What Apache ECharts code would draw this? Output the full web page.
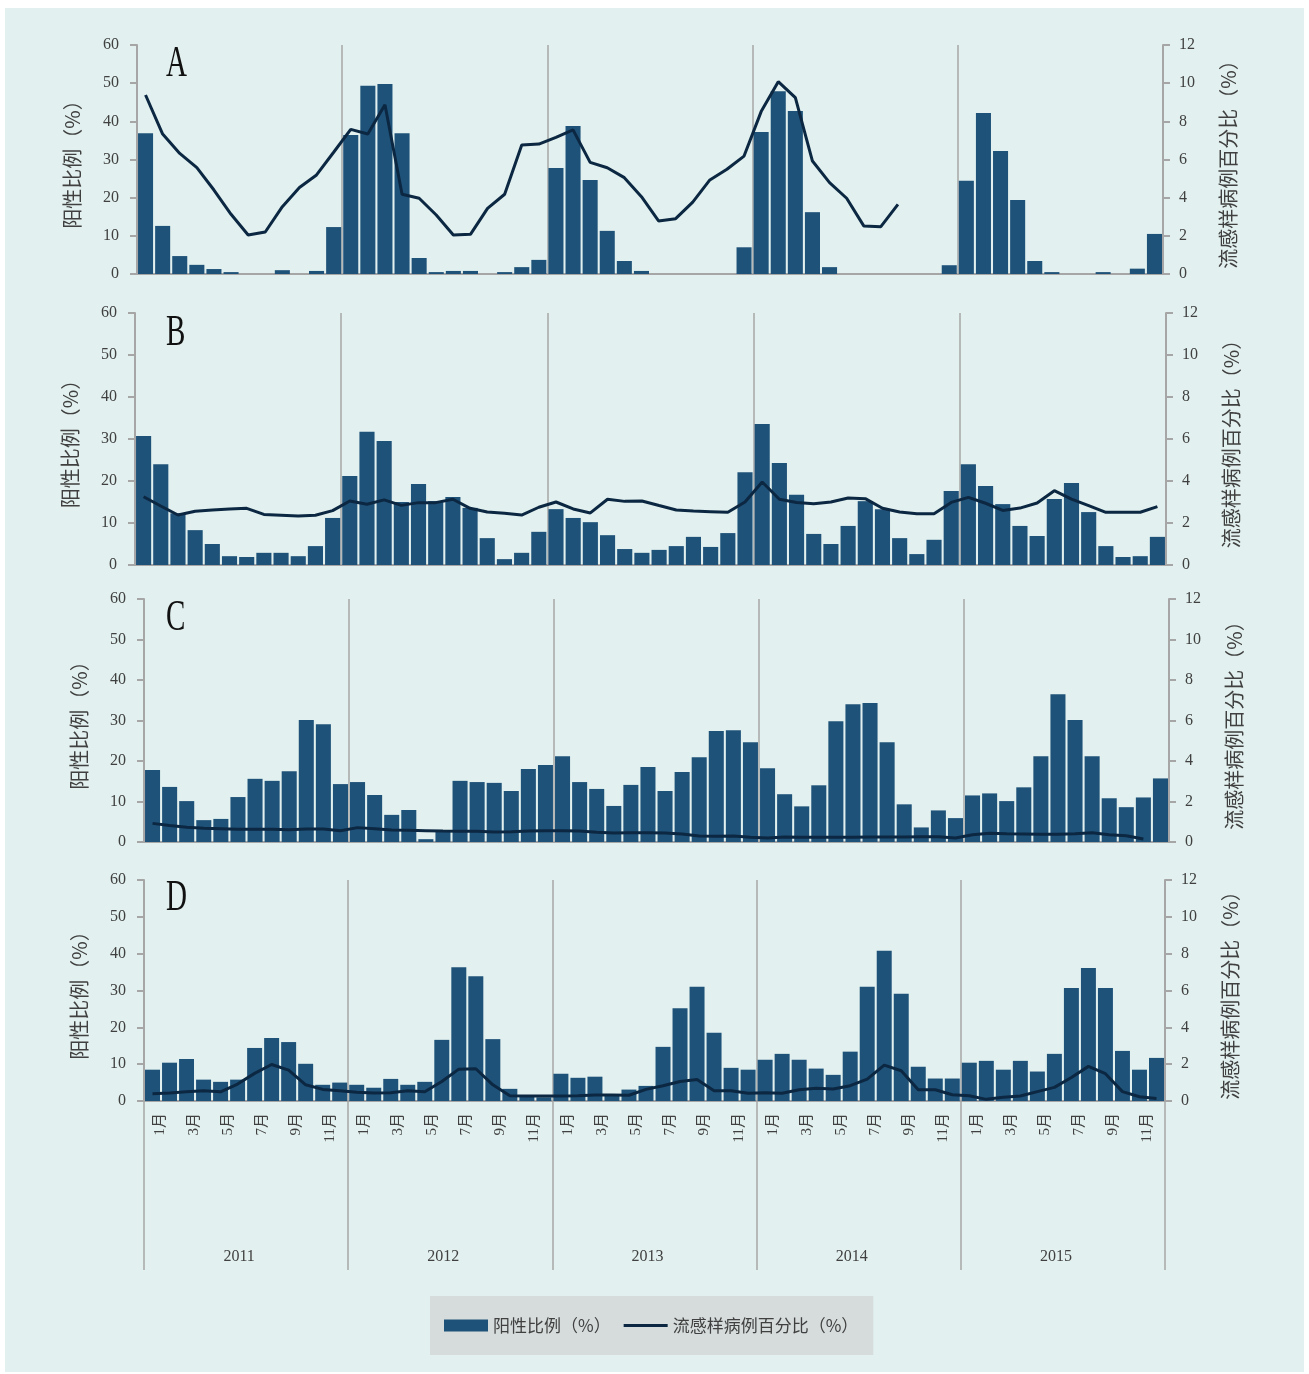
<!DOCTYPE html>
<html>
<head>
<meta charset="utf-8">
<script src="https://cdn.jsdelivr.net/npm/echarts@6/dist/echarts.min.js"></script>
<style>
  html, body { margin: 0; padding: 0; background: #ffffff; }
  #bg { position: absolute; left: 5px; top: 8px; right: 5px; bottom: 2px; background: #e2f1ef; }
  #chart { position: absolute; left: 0; top: 0; width: 1309px; height: 1374px; }
</style>
</head>
<body>
<div id="bg"></div>
<div id="chart"></div>
<script>
// Monthly surveillance, 2011-2015, four panels (A-D)
const years = ['2011', '2012', '2013', '2014', '2015'];
const months = ['1月', '2月', '3月', '4月', '5月', '6月', '7月', '8月', '9月', '10月', '11月', '12月'];
const panelNames = ['A', 'B', 'C', 'D'];
const leftTicks = [0, 10, 20, 30, 40, 50, 60];
const rightTicks = [0, 2, 4, 6, 8, 10, 12];

// 阳性比例（%）
const posA = [
  36.9, 12.6, 4.7, 2.4, 1.3, 0.5, 0, 0, 1.0, 0, 0.8, 12.3,
  36.4, 49.3, 49.8, 36.9, 4.2, 0.5, 0.8, 0.8, 0, 0.5, 1.8, 3.7,
  27.8, 38.8, 24.6, 11.3, 3.4, 0.8, 0, 0, 0, 0, 0, 7.0,
  37.2, 47.9, 42.7, 16.2, 1.8, 0, 0, 0, 0, 0, 0, 2.3,
  24.4, 42.2, 32.2, 19.4, 3.4, 0.5, 0, 0, 0.5, 0, 1.4, 10.5
];
const posB = [
  30.7, 24.0, 12.3, 8.3, 5.0, 2.1, 1.9, 2.9, 2.9, 2.1, 4.5, 11.2,
  21.2, 31.7, 29.5, 15.0, 19.3, 15.2, 16.2, 13.6, 6.4, 1.4, 2.9, 7.9,
  13.3, 11.2, 10.2, 7.1, 3.8, 2.9, 3.6, 4.5, 6.7, 4.3, 7.6, 22.1,
  33.6, 24.3, 16.7, 7.4, 5.0, 9.3, 15.2, 13.3, 6.4, 2.6, 6.0, 17.6,
  24.0, 18.8, 14.5, 9.3, 6.9, 15.7, 19.5, 12.6, 4.5, 1.9, 2.1, 6.7
];
const posC = [
  17.8, 13.6, 10.1, 5.4, 5.7, 11.1, 15.6, 15.1, 17.5, 30.1, 29.1, 14.3,
  14.8, 11.6, 6.7, 7.9, 0.7, 2.5, 15.1, 14.8, 14.6, 12.6, 18.0, 19.0,
  21.2, 14.8, 13.1, 8.9, 14.1, 18.5, 12.6, 17.3, 20.9, 27.4, 27.6, 24.6,
  18.2, 11.8, 8.8, 14.0, 29.8, 34.0, 34.3, 24.6, 9.3, 3.6, 7.8, 5.9,
  11.5, 12.0, 10.1, 13.5, 21.2, 36.5, 30.1, 21.2, 10.8, 8.6, 11.0, 15.7
];
const posD = [
  8.5, 10.4, 11.4, 5.8, 5.2, 5.8, 14.4, 17.1, 16.0, 10.1, 4.4, 5.0,
  4.4, 3.6, 6.0, 4.4, 5.2, 16.6, 36.3, 33.9, 16.8, 3.3, 1.2, 1.0,
  7.4, 6.3, 6.6, 1.8, 3.1, 4.1, 14.7, 25.2, 31.0, 18.5, 9.0, 8.5,
  11.2, 12.8, 11.2, 8.8, 7.1, 13.4, 31.0, 40.8, 29.1, 9.3, 6.1, 6.1,
  10.4, 10.9, 8.5, 10.9, 8.0, 12.8, 30.7, 36.1, 30.7, 13.6, 8.5, 11.7
];

// 流感样病例百分比（%）
const iliA = [
  9.38, 7.33, 6.32, 5.57, 4.40, 3.13, 2.04, 2.20, 3.53, 4.53, 5.19, 6.38,
  7.58, 7.34, 8.87, 4.18, 3.97, 3.09, 2.04, 2.08, 3.44, 4.18, 6.76, 6.81,
  7.16, 7.55, 5.85, 5.57, 5.05, 4.05, 2.78, 2.90, 3.77, 4.93, 5.49, 6.18,
  8.51, 10.08, 9.24, 5.92, 4.79, 3.97, 2.52, 2.48, 3.65, null, null, null,
  null, null, null, null, null, null, null, null, null, null, null, null
];
const iliB = [
  3.25, 2.81, 2.38, 2.56, 2.62, 2.67, 2.70, 2.41, 2.37, 2.33, 2.37, 2.59,
  3.05, 2.89, 3.10, 2.84, 2.97, 2.97, 3.13, 2.70, 2.52, 2.46, 2.38, 2.75,
  3.00, 2.67, 2.48, 3.13, 3.03, 3.05, 2.83, 2.62, 2.57, 2.54, 2.51, 3.00,
  3.95, 3.13, 2.98, 2.92, 3.00, 3.19, 3.16, 2.70, 2.52, 2.44, 2.44, 2.98,
  3.22, 2.94, 2.60, 2.71, 2.95, 3.54, 3.14, 2.83, 2.51, 2.51, 2.51, 2.78
];
const iliC = [
  0.92, 0.81, 0.73, 0.68, 0.66, 0.63, 0.63, 0.63, 0.61, 0.64, 0.64, 0.56,
  0.71, 0.66, 0.59, 0.58, 0.56, 0.54, 0.53, 0.53, 0.49, 0.51, 0.54, 0.56,
  0.56, 0.54, 0.48, 0.45, 0.46, 0.46, 0.45, 0.40, 0.30, 0.28, 0.30, 0.23,
  0.20, 0.25, 0.23, 0.23, 0.23, 0.23, 0.25, 0.25, 0.25, 0.26, 0.26, 0.20,
  0.36, 0.43, 0.41, 0.40, 0.38, 0.38, 0.41, 0.46, 0.36, 0.31, 0.15, null
];
const iliD = [
  0.40, 0.43, 0.50, 0.56, 0.50, 0.92, 1.50, 1.98, 1.68, 0.88, 0.63, 0.56,
  0.47, 0.43, 0.45, 0.56, 0.50, 1.06, 1.73, 1.75, 0.88, 0.29, 0.27, 0.27,
  0.27, 0.29, 0.32, 0.32, 0.31, 0.63, 0.83, 1.06, 1.17, 0.56, 0.56, 0.42,
  0.45, 0.42, 0.61, 0.69, 0.65, 0.83, 1.19, 1.95, 1.64, 0.61, 0.61, 0.34,
  0.29, 0.09, 0.20, 0.27, 0.51, 0.74, 1.28, 1.88, 1.48, 0.51, 0.23, 0.14
];

const posSets = [posA, posB, posC, posD];
const iliSets = [iliA, iliB, iliC, iliD];

const posName = '阳性比例（%）';
const iliName = '流感样病例百分比（%）';

const barColor = '#1f5279';
const lineColor = '#0b2742';
const axisGray = '#a6a6a6';
const textColor = '#404040';
const serif = "'Liberation Serif', 'DejaVu Serif', 'Noto Sans CJK SC', serif";
const cjk = "'Noto Sans CJK SC', sans-serif";

// legend swatch for the line series: a 3px stroke centred in a 44x12 box
const lineIcon = 'path://M0,0L44,0L44,0ZM0,4.5H44V7.5H0ZM0,12L44,12L44,12Z';

// one category per month: "2011-1月" ...
const categories = [];
years.forEach(y => months.forEach(m => categories.push(y + '-' + m)));

const grids = [
  { left: 137, top: 45, width: 1026, height: 229 },
  { left: 135, top: 313, width: 1031, height: 252 },
  { left: 144, top: 599, width: 1025, height: 243 },
  { left: 144, top: 880, width: 1021, height: 221 }
];
const letterY = [42, 311, 596, 876];

const xAxes = [];
const yAxes = [];
const series = [];

grids.forEach((g, i) => {
  const last = i === grids.length - 1;
  // month axis
  xAxes.push({
    type: 'category', gridIndex: i, data: categories, position: 'bottom',
    axisLine: { show: true, lineStyle: { color: axisGray, width: 2 } },
    axisTick: { show: false },
    splitLine: { show: false },
    axisLabel: last ? {
      show: true, interval: 1, rotate: 90, margin: 12, verticalAlign: 'top',
      fontSize: 15, color: textColor, fontFamily: serif,
      formatter: v => v.split('-')[1]
    } : { show: false }
  });
  // year axis: separators inside the panel, and year labels under the last one
  xAxes.push({
    type: 'category', gridIndex: i, data: years, position: 'bottom',
    axisLine: { show: false },
    axisTick: last ? { show: true, interval: 0, length: 169, lineStyle: { color: axisGray, width: 1.5 } } : { show: false },
    axisLabel: last ? { show: true, interval: 0, margin: 148, fontSize: 16, color: textColor, fontFamily: serif, padding: [0, 14, 0, 0] } : { show: false },
    splitLine: { show: true, interval: 0, showMinLine: false, showMaxLine: false, lineStyle: { color: axisGray, width: 1.5 } }
  });
  yAxes.push({
    type: 'value', gridIndex: i, position: 'left',
    min: leftTicks[0], max: leftTicks[leftTicks.length - 1], interval: leftTicks[1] - leftTicks[0],
    name: posName, nameLocation: 'middle', nameRotate: 90, nameGap: 55,
    nameTextStyle: { fontSize: 20, color: textColor, fontFamily: cjk },
    axisLine: { show: true, lineStyle: { color: axisGray, width: 2 } },
    axisTick: { show: true, length: 7, lineStyle: { color: axisGray, width: 2 } },
    axisLabel: { margin: 18, fontSize: 16, color: textColor, fontFamily: serif },
    splitLine: { show: false }
  });
  yAxes.push({
    type: 'value', gridIndex: i, position: 'right',
    min: rightTicks[0], max: rightTicks[rightTicks.length - 1], interval: rightTicks[1] - rightTicks[0],
    name: iliName, nameLocation: 'middle', nameRotate: 90, nameGap: 55,
    nameTextStyle: { fontSize: 20, color: textColor, fontFamily: cjk },
    axisLine: { show: true, lineStyle: { color: axisGray, width: 2 } },
    axisTick: { show: true, length: 7, lineStyle: { color: axisGray, width: 2 } },
    axisLabel: { margin: 16, fontSize: 16, color: textColor, fontFamily: serif },
    splitLine: { show: false }
  });
  series.push({
    name: posName, type: 'bar', xAxisIndex: 2 * i, yAxisIndex: 2 * i,
    data: posSets[i], barCategoryGap: '12%',
    itemStyle: { color: barColor }, z: 2
  });
  series.push({
    name: iliName, type: 'line', xAxisIndex: 2 * i, yAxisIndex: 2 * i + 1,
    data: iliSets[i], symbol: 'none', connectNulls: false,
    lineStyle: { color: lineColor, width: 3 }, itemStyle: { color: lineColor }, z: 3
  });
});

const chart = echarts.init(document.getElementById('chart'), null, { renderer: 'canvas' });
chart.setOption({
  backgroundColor: 'transparent',
  animation: false,
  grid: grids.map(g => Object.assign({ containLabel: false }, g)),
  xAxis: xAxes,
  yAxis: yAxes,
  series: series,
  legend: {
    left: 430, top: 1296,
    padding: [21, 15, 21, 14],
    backgroundColor: '#d5dcdb',
    itemWidth: 44, itemHeight: 12, itemGap: 13,
    textStyle: { fontSize: 17, color: textColor, fontFamily: cjk },
    data: [
      { name: posName, icon: 'rect' },
      { name: iliName, icon: lineIcon, itemStyle: { color: lineColor } }
    ]
  },
  graphic: panelNames.map((t, i) => ({
    type: 'text', x: 166, y: letterY[i], scaleX: 0.66,
    style: { text: t, fontSize: 44, fontFamily: "'Liberation Serif', serif", fill: '#111111' }
  }))
});
</script>
</body>
</html>
